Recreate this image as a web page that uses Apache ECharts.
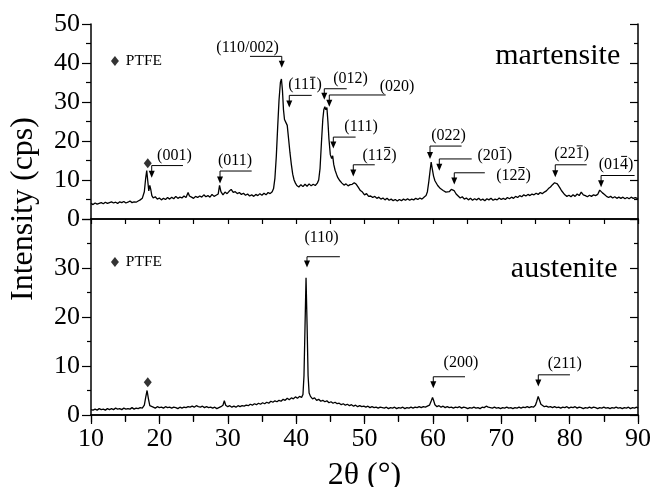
<!DOCTYPE html>
<html>
<head>
<meta charset="utf-8">
<script src="https://cdn.jsdelivr.net/npm/echarts@6/dist/echarts.min.js"></script>
<style>html,body{margin:0;padding:0;background:#fff;}#c{width:652px;height:487px;}</style>
</head>
<body>
<div id="c"></div>
<script>
// ---------- DATA ----------
var martensitePattern = [
[10.0,4.0],[10.3,3.7],[10.6,4.1],[10.9,3.8],[11.2,4.0],[11.5,4.2],[11.8,3.9],[12.1,4.3],[12.4,4.0],[12.7,4.2],
[13.0,4.4],[13.3,4.1],[13.6,4.3],[13.9,4.0],[14.2,4.4],[14.5,4.2],[14.8,4.5],[15.1,4.1],[15.4,4.3],[15.7,4.6],
[16.0,4.2],[16.3,4.4],[16.6,4.3],[16.9,4.6],[17.2,4.9],[17.5,5.3],[17.8,7.0],[18.0,10.5],[18.15,12.4],[18.3,9.8],
[18.45,7.2],[18.6,8.6],[18.75,7.5],[18.9,6.0],[19.1,5.4],[19.4,5.7],[19.7,5.1],[20.0,5.4],[20.3,4.9],[20.6,5.3],
[20.9,5.0],[21.2,5.5],[21.5,5.1],[21.8,5.6],[22.1,5.2],[22.4,5.8],[22.7,5.3],[23.0,5.6],[23.3,5.4],[23.6,5.9],
[23.9,5.5],[24.2,6.8],[24.4,5.9],[24.7,5.6],[25.0,5.3],[25.3,5.8],[25.6,5.5],[25.9,5.9],[26.2,5.6],[26.5,6.2],
[26.8,5.7],[27.1,6.0],[27.4,5.6],[27.7,6.3],[28.0,5.8],[28.3,6.1],[28.6,6.4],[28.8,8.6],[29.0,7.0],[29.3,6.2],
[29.6,6.9],[29.9,6.5],[30.2,7.1],[30.5,7.6],[30.8,6.8],[31.1,7.0],[31.4,6.5],[31.7,6.8],[32.0,6.3],[32.3,6.6],
[32.6,6.1],[32.9,6.4],[33.2,5.9],[33.5,6.2],[33.8,5.8],[34.1,6.3],[34.4,6.0],[34.7,6.5],[35.0,6.1],[35.3,6.6],
[35.6,6.2],[35.9,6.8],[36.2,6.5],[36.5,7.0],[36.7,7.8],[36.9,10.5],[37.1,16.0],[37.3,23.5],[37.5,30.5],[37.7,35.0],
[37.85,35.9],[38.0,33.0],[38.15,28.0],[38.3,25.5],[38.5,25.3],[38.7,24.0],[38.9,20.5],[39.1,17.0],[39.3,14.0],[39.5,11.5],
[39.7,10.0],[39.9,9.2],[40.1,8.6],[40.4,8.2],[40.7,8.8],[41.0,8.3],[41.3,8.9],[41.6,8.4],[41.9,9.0],[42.2,8.5],
[42.5,8.9],[42.8,8.6],[43.1,9.2],[43.3,10.0],[43.5,13.0],[43.7,19.5],[43.9,25.5],[44.05,28.0],[44.2,28.8],[44.35,28.0],
[44.5,28.6],[44.65,25.0],[44.8,20.5],[45.0,16.5],[45.2,15.5],[45.35,16.2],[45.5,14.0],[45.7,12.5],[45.9,11.5],[46.1,10.6],
[46.4,9.8],[46.7,9.2],[47.0,8.7],[47.3,9.0],[47.6,8.5],[47.9,8.8],[48.2,8.9],[48.5,9.3],[48.8,8.9],[49.1,8.1],
[49.4,7.3],[49.7,6.9],[50.0,6.2],[50.3,6.5],[50.6,5.8],[50.9,5.9],[51.2,5.5],[51.5,5.8],[51.8,5.3],[52.1,5.6],
[52.4,5.1],[52.7,5.4],[53.0,4.9],[53.3,5.3],[53.6,4.8],[53.9,5.1],[54.2,4.7],[54.5,5.0],[54.8,4.6],[55.1,5.0],
[55.4,4.7],[55.7,5.1],[56.0,4.8],[56.3,5.2],[56.6,4.8],[56.9,5.1],[57.2,4.9],[57.5,5.3],[57.8,5.0],[58.1,5.4],
[58.4,5.1],[58.7,5.6],[59.0,6.0],[59.2,7.0],[59.4,9.5],[59.6,12.5],[59.75,14.6],[59.9,13.0],[60.1,11.0],[60.3,9.8],
[60.5,10.2],[60.7,8.6],[60.9,8.9],[61.1,7.8],[61.3,8.2],[61.5,7.3],[61.7,7.6],[61.9,6.9],[62.1,7.2],[62.4,7.0],
[62.7,7.6],[62.9,7.8],[63.1,7.3],[63.4,6.4],[63.7,5.9],[64.0,5.4],[64.3,5.7],[64.6,5.1],[64.9,5.4],[65.2,4.9],
[65.5,5.3],[65.8,4.8],[66.1,5.2],[66.4,4.9],[66.7,5.3],[67.0,4.8],[67.3,5.1],[67.6,4.7],[67.9,5.2],[68.2,4.9],
[68.5,5.3],[68.8,4.8],[69.1,5.1],[69.4,4.9],[69.7,5.4],[70.0,5.0],[70.3,5.3],[70.6,5.0],[70.9,5.5],[71.2,5.2],
[71.5,5.6],[71.8,5.3],[72.1,5.8],[72.4,5.5],[72.7,6.0],[73.0,5.7],[73.3,6.2],[73.6,5.9],[73.9,6.3],[74.2,6.0],
[74.5,6.4],[74.8,6.2],[75.1,6.6],[75.4,6.3],[75.7,6.8],[76.0,6.5],[76.3,6.9],[76.6,7.2],[76.9,7.8],[77.2,8.2],
[77.5,8.8],[77.8,9.3],[78.0,9.5],[78.2,9.0],[78.4,8.6],[78.6,7.9],[78.8,7.3],[79.0,6.8],[79.3,6.2],[79.6,5.8],
[79.9,6.1],[80.2,5.7],[80.5,6.2],[80.8,5.8],[81.1,6.4],[81.4,6.0],[81.7,6.9],[82.0,6.2],[82.3,6.0],[82.6,5.7],
[82.9,6.1],[83.2,5.8],[83.5,6.2],[83.8,6.0],[84.1,6.3],[84.4,7.4],[84.6,7.0],[84.8,6.7],[85.1,6.3],[85.4,5.8],
[85.7,5.5],[86.0,5.8],[86.3,5.4],[86.6,5.7],[86.9,5.3],[87.2,5.6],[87.5,5.3],[87.8,5.6],[88.1,5.2],[88.4,5.5],
[88.7,5.2],[89.0,5.6],[89.3,5.3],[89.6,5.5],[90.0,5.2]
];

var austenitePattern = [
[10.0,1.1],[10.3,1.0],[10.6,1.2],[10.9,1.0],[11.2,1.3],[11.5,1.1],[11.8,1.2],[12.1,1.0],[12.4,1.3],[12.7,1.1],
[13.0,1.3],[13.3,1.1],[13.6,1.4],[13.9,1.2],[14.2,1.3],[14.5,1.1],[14.8,1.4],[15.1,1.2],[15.4,1.3],[15.7,1.2],
[16.0,1.5],[16.3,1.2],[16.6,1.4],[16.9,1.3],[17.2,1.5],[17.5,1.4],[17.8,2.0],[18.0,3.6],[18.2,5.0],[18.4,3.3],
[18.6,1.9],[18.8,1.5],[19.1,1.6],[19.4,1.4],[19.7,1.7],[20.0,1.5],[20.3,1.6],[20.6,1.4],[20.9,1.7],[21.2,1.5],
[21.5,1.6],[21.8,1.4],[22.1,1.6],[22.4,1.5],[22.7,1.3],[23.0,1.6],[23.3,1.4],[23.6,1.6],[23.9,1.5],[24.2,1.7],
[24.5,1.6],[24.8,1.8],[25.1,1.6],[25.4,1.9],[25.7,1.7],[26.0,1.6],[26.3,1.8],[26.6,1.5],[26.9,1.7],[27.2,1.5],
[27.5,1.6],[27.8,1.4],[28.1,1.6],[28.4,1.3],[28.7,1.5],[29.0,1.7],[29.3,2.0],[29.5,2.9],[29.7,2.0],[30.0,1.7],
[30.3,1.9],[30.6,1.6],[30.9,1.8],[31.2,1.6],[31.5,1.9],[31.8,1.7],[32.1,1.9],[32.4,1.8],[32.7,2.0],[33.0,1.9],
[33.3,2.2],[33.6,2.0],[33.9,2.3],[34.2,2.1],[34.5,2.4],[34.8,2.2],[35.1,2.5],[35.4,2.3],[35.7,2.6],[36.0,2.4],
[36.3,2.8],[36.6,2.6],[36.9,2.9],[37.2,2.7],[37.5,3.0],[37.8,2.8],[38.1,3.2],[38.4,3.0],[38.7,3.4],[39.0,3.1],
[39.3,3.5],[39.6,3.3],[39.9,3.7],[40.2,3.4],[40.5,3.8],[40.8,3.6],[41.0,4.2],[41.15,8.0],[41.3,18.0],[41.45,28.0],
[41.6,18.5],[41.75,8.0],[41.9,4.5],[42.1,3.8],[42.4,3.3],[42.7,3.5],[43.0,3.0],[43.3,3.2],[43.6,2.8],[43.9,3.0],
[44.2,2.7],[44.5,2.9],[44.8,2.5],[45.1,2.7],[45.4,2.4],[45.7,2.6],[46.0,2.3],[46.3,2.4],[46.6,2.1],[46.9,2.3],
[47.2,2.0],[47.5,2.2],[47.8,1.9],[48.1,2.1],[48.4,1.8],[48.7,2.0],[49.0,1.7],[49.3,1.9],[49.6,1.7],[49.9,1.8],
[50.2,1.6],[50.5,1.8],[50.8,1.5],[51.1,1.7],[51.4,1.5],[51.7,1.6],[52.0,1.4],[52.3,1.6],[52.6,1.5],[52.9,1.4],
[53.2,1.6],[53.5,1.3],[53.8,1.5],[54.1,1.4],[54.4,1.6],[54.7,1.3],[55.0,1.5],[55.3,1.4],[55.6,1.6],[55.9,1.3],
[56.2,1.5],[56.5,1.4],[56.8,1.6],[57.1,1.4],[57.4,1.6],[57.7,1.5],[58.0,1.7],[58.3,1.5],[58.6,1.7],[58.9,1.6],
[59.2,1.8],[59.5,2.0],[59.8,3.0],[59.95,3.6],[60.1,3.0],[60.3,2.1],[60.6,1.7],[60.9,1.9],[61.2,1.6],[61.5,1.8],
[61.8,1.5],[62.1,1.7],[62.4,1.5],[62.7,1.6],[63.0,1.4],[63.3,1.6],[63.6,1.5],[63.9,1.7],[64.2,1.4],[64.5,1.6],
[64.8,1.5],[65.1,1.3],[65.4,1.5],[65.7,1.4],[66.0,1.6],[66.3,1.4],[66.6,1.5],[66.9,1.3],[67.2,1.6],[67.5,1.5],
[67.8,1.8],[68.1,1.6],[68.4,1.5],[68.7,1.4],[69.0,1.6],[69.3,1.4],[69.6,1.5],[69.9,1.3],[70.2,1.5],[70.5,1.4],
[70.8,1.6],[71.1,1.4],[71.4,1.5],[71.7,1.3],[72.0,1.5],[72.3,1.4],[72.6,1.6],[72.9,1.4],[73.2,1.6],[73.5,1.5],
[73.8,1.7],[74.1,1.5],[74.4,1.7],[74.7,1.6],[75.0,2.0],[75.2,2.8],[75.4,3.8],[75.6,3.0],[75.8,2.2],[76.0,1.9],
[76.3,1.7],[76.6,1.8],[76.9,1.6],[77.2,1.7],[77.5,1.5],[77.8,1.7],[78.1,1.5],[78.4,1.6],[78.7,1.4],[79.0,1.6],
[79.3,1.5],[79.6,1.7],[79.9,1.4],[80.2,1.6],[80.5,1.5],[80.8,1.7],[81.1,1.4],[81.4,1.6],[81.7,1.5],[82.0,1.3],
[82.3,1.5],[82.6,1.4],[82.9,1.6],[83.2,1.4],[83.5,1.6],[83.8,1.5],[84.1,1.3],[84.4,1.5],[84.7,1.4],[85.0,1.6],
[85.3,1.4],[85.6,1.5],[85.9,1.3],[86.2,1.5],[86.5,1.4],[86.8,1.6],[87.1,1.4],[87.4,1.5],[87.7,1.3],[88.0,1.5],
[88.3,1.4],[88.6,1.6],[88.9,1.3],[89.2,1.5],[89.5,1.4],[89.8,1.6],[90.0,1.4]
];

// peak labels (Miller indices); U+0304 after a digit marks a bar over that digit
var martensiteLabels = ['(001)','(011)','(110/002)','(111\u0304)','(012)','(020)','(111)','(112\u0304)','(022)','(201\u0304)','(122\u0304)','(221\u0304)','(014\u0304)'];
// [arrow 2θ, arrow tip intensity, leader intensity, leader end 2θ, label 2θ, label intensity]
var martensiteArrows = [
[18.88,10.6,13.7,23.45,22.2,16.3],
[28.87,9.1,12.3,33.5,31.06,15.0],
[37.9,38.8,41.7,33.25,32.9,44.0],
[39.0,28.6,31.7,42.28,41.3,34.3],
[44.12,30.6,33.4,47.4,47.95,36.0],
[44.85,28.8,31.8,53.1,54.75,34.0],
[45.44,18.1,21.0,48.7,49.5,23.7],
[48.36,10.9,13.9,51.5,52.2,16.3],
[59.58,15.4,18.7,64.2,62.3,21.4],
[60.94,12.4,15.4,65.68,69.05,16.3],
[63.13,8.85,11.85,67.6,71.8,11.15],
[77.9,10.7,13.9,82.5,80.3,16.7],
[84.6,8.15,11.15,89.5,86.8,14.0]
];
var austeniteLabels = ['(110)','(200)','(211)'];
var austeniteArrows = [
[41.59,30.1,32.3,46.4,43.7,36.1],
[60.06,5.45,7.8,64.7,64.1,10.6],
[75.42,5.8,8.2,80.05,79.3,10.55]
];
// PTFE markers: peak marker and key marker
var martensitePTFE = [[18.3,14.3],[13.5,40.5]];
var austenitePTFE = [[18.3,6.7],[13.5,31.2]];
// free texts: [2θ, intensity]
var martensiteTexts = ['PTFE','martensite'];
var martensiteTextPos = [[15.1,40.5],[87.4,41.7]];
var austeniteTexts = ['PTFE','austenite'];
var austeniteTextPos = [[15.1,31.2],[87.0,29.7]];

var xTicks = [10,20,30,40,50,60,70,80,90];

// ---------- CHART ----------
var FONT = '"Liberation Serif", "Times New Roman", serif';
var LABEL_FS = 16;
var measureCtx = document.createElement('canvas').getContext('2d');
function textWidth(s, font){ measureCtx.font = font; return measureCtx.measureText(s).width; }

var chart = echarts.init(document.getElementById('c'), null, {renderer:'canvas'});

function arrowRender(labels){
  return function(params, api){
    var i = params.dataIndex;
    var tip = api.coord([api.value(0), api.value(1)]);
    var top = api.coord([api.value(0), api.value(2)]);
    var end = api.coord([api.value(3), api.value(2)]);
    var lab = api.coord([api.value(4), api.value(5)]);
    var h = 7, w = 3;
    var raw = labels[i];
    var barIdx = raw.indexOf('\u0304');
    var txt = raw.replace('\u0304', '');
    var font = LABEL_FS + 'px ' + FONT;
    var children = [
      {type:'polyline', shape:{points:[[end[0], top[1]], [tip[0], top[1]], [tip[0], tip[1]-h+1]]},
       style:{stroke:'#000', lineWidth:1, fill:null}},
      {type:'polygon', shape:{points:[[tip[0]-w, tip[1]-h],[tip[0]+w, tip[1]-h],[tip[0], tip[1]]]},
       style:{fill:'#000'}},
      {type:'text', x:lab[0], y:lab[1], style:{text:txt, align:'center', verticalAlign:'middle',
       font:font, fill:'#000'}}
    ];
    if (barIdx > 0) {
      var total = textWidth(txt, font);
      var left = lab[0] - total/2;
      var x0 = left + textWidth(txt.slice(0, barIdx-1), font);
      var x1 = left + textWidth(txt.slice(0, barIdx), font);
      var by = lab[1] - LABEL_FS*0.5;
      children.push({type:'line', shape:{x1:x0+1, y1:by, x2:x1-1, y2:by}, style:{stroke:'#000', lineWidth:1}});
    }
    return {type:'group', children:children};
  };
}
function textRender(texts){
  return function(params, api){
    var i = params.dataIndex;
    var p = api.coord([api.value(0), api.value(1)]);
    var big = i === 1;
    return {type:'text', x:p[0], y:p[1], style:{text:texts[i], align: big ? 'right' : 'left', verticalAlign:'middle',
      font:(big ? '30px ' : '15.5px ') + FONT, fill:'#000'}};
  };
}

var axLine = {show:true, lineStyle:{color:'#000', width:1.5}};
var noLabel = {show:false};
var tickLabel = {show:true, fontSize:26, fontFamily:FONT, color:'#000'};

var option = {
  animation:false,
  backgroundColor:'#fff',
  grid:[
    {left:91, right:14, top:24, height:195, containLabel:false, outerBoundsMode:'none'},
    {left:91, right:14, top:219, height:196, containLabel:false, outerBoundsMode:'none'}
  ],
  xAxis:[
    {gridIndex:0, type:'value', min:10, max:90, interval:10, position:'bottom', axisLine:axLine,
     axisTick:{show:false}, axisLabel:noLabel, splitLine:{show:false}},
    {gridIndex:0, type:'value', min:10, max:90, interval:5, position:'top', axisLine:axLine,
     axisTick:{show:true, inside:true, length:5, lineStyle:{color:'#000', width:1.2}}, axisLabel:noLabel, splitLine:{show:false}},
    {gridIndex:1, type:'value', min:10, max:90, interval:10, position:'bottom', axisLine:axLine,
     axisTick:{show:true, inside:false, length:9, lineStyle:{color:'#000', width:1.2}},
     minorTick:{show:true, splitNumber:2, length:6, lineStyle:{color:'#000', width:1.2}},
     axisLabel:Object.assign({margin:11, formatter:function(v){return xTicks.indexOf(v)>=0 ? String(v) : '';}}, tickLabel),
     splitLine:{show:false}, minorSplitLine:{show:false},
     name:'2\u03b8 (\u00b0)', nameLocation:'middle', nameGap:45,
     nameTextStyle:{fontSize:32, fontFamily:FONT, color:'#000'}},
    {gridIndex:1, type:'value', min:10, max:90, interval:5, position:'top', axisLine:axLine,
     axisTick:{show:true, inside:true, length:7, lineStyle:{color:'#000', width:1.2}}, axisLabel:noLabel, splitLine:{show:false}}
  ],
  yAxis:[
    {gridIndex:0, type:'value', min:0, max:50, interval:10, position:'left', axisLine:axLine,
     axisTick:{show:true, inside:false, length:9, lineStyle:{color:'#000', width:1.2}},
     minorTick:{show:true, splitNumber:2, length:5, lineStyle:{color:'#000', width:1.2}},
     axisLabel:Object.assign({margin:11}, tickLabel), splitLine:{show:false}, minorSplitLine:{show:false}},
    {gridIndex:0, type:'value', min:0, max:50, interval:10, position:'right', axisLine:axLine,
     axisTick:{show:true, inside:true, length:8, lineStyle:{color:'#000', width:1.2}},
     minorTick:{show:true, splitNumber:2, length:4, lineStyle:{color:'#000', width:1.2}},
     axisLabel:noLabel, splitLine:{show:false}, minorSplitLine:{show:false}},
    {gridIndex:1, type:'value', min:0, max:40, interval:10, position:'left', axisLine:axLine,
     axisTick:{show:true, inside:false, length:9, lineStyle:{color:'#000', width:1.2}},
     minorTick:{show:true, splitNumber:2, length:4, lineStyle:{color:'#000', width:1.2}},
     axisLabel:Object.assign({margin:11, showMaxLabel:false}, tickLabel), splitLine:{show:false}, minorSplitLine:{show:false}},
    {gridIndex:1, type:'value', min:0, max:40, interval:10, position:'right', axisLine:axLine,
     axisTick:{show:true, inside:true, length:8, lineStyle:{color:'#000', width:1.2}},
     minorTick:{show:true, splitNumber:2, length:4, lineStyle:{color:'#000', width:1.2}},
     axisLabel:noLabel, splitLine:{show:false}, minorSplitLine:{show:false}}
  ],
  graphic:[
    {type:'text', x:24, y:209, rotation:Math.PI/2, style:{text:'Intensity (cps)', align:'center', verticalAlign:'middle',
     font:'32px ' + FONT, fill:'#000'}}
  ],
  series:[
    {type:'line', xAxisIndex:0, yAxisIndex:0, data:martensitePattern, showSymbol:false, symbol:'none',
     lineStyle:{color:'#000', width:1.3}, silent:true},
    {type:'line', xAxisIndex:2, yAxisIndex:2, data:austenitePattern, showSymbol:false, symbol:'none',
     lineStyle:{color:'#000', width:1.3}, silent:true},
    {type:'scatter', xAxisIndex:0, yAxisIndex:0, data:martensitePTFE, symbol:'diamond', symbolSize:[8,10],
     itemStyle:{color:'#000'}, silent:true},
    {type:'scatter', xAxisIndex:2, yAxisIndex:2, data:austenitePTFE, symbol:'diamond', symbolSize:[8,10],
     itemStyle:{color:'#000'}, silent:true},
    {type:'custom', xAxisIndex:0, yAxisIndex:0, data:martensiteArrows, renderItem:arrowRender(martensiteLabels),
     encode:{x:[0,3,4], y:[1,2,5]}, clip:false, silent:true},
    {type:'custom', xAxisIndex:2, yAxisIndex:2, data:austeniteArrows, renderItem:arrowRender(austeniteLabels),
     encode:{x:[0,3,4], y:[1,2,5]}, clip:false, silent:true},
    {type:'custom', xAxisIndex:0, yAxisIndex:0, data:martensiteTextPos, renderItem:textRender(martensiteTexts),
     encode:{x:0, y:1}, clip:false, silent:true},
    {type:'custom', xAxisIndex:2, yAxisIndex:2, data:austeniteTextPos, renderItem:textRender(austeniteTexts),
     encode:{x:0, y:1}, clip:false, silent:true}
  ]
};
chart.setOption(option);
</script>
</body>
</html>
